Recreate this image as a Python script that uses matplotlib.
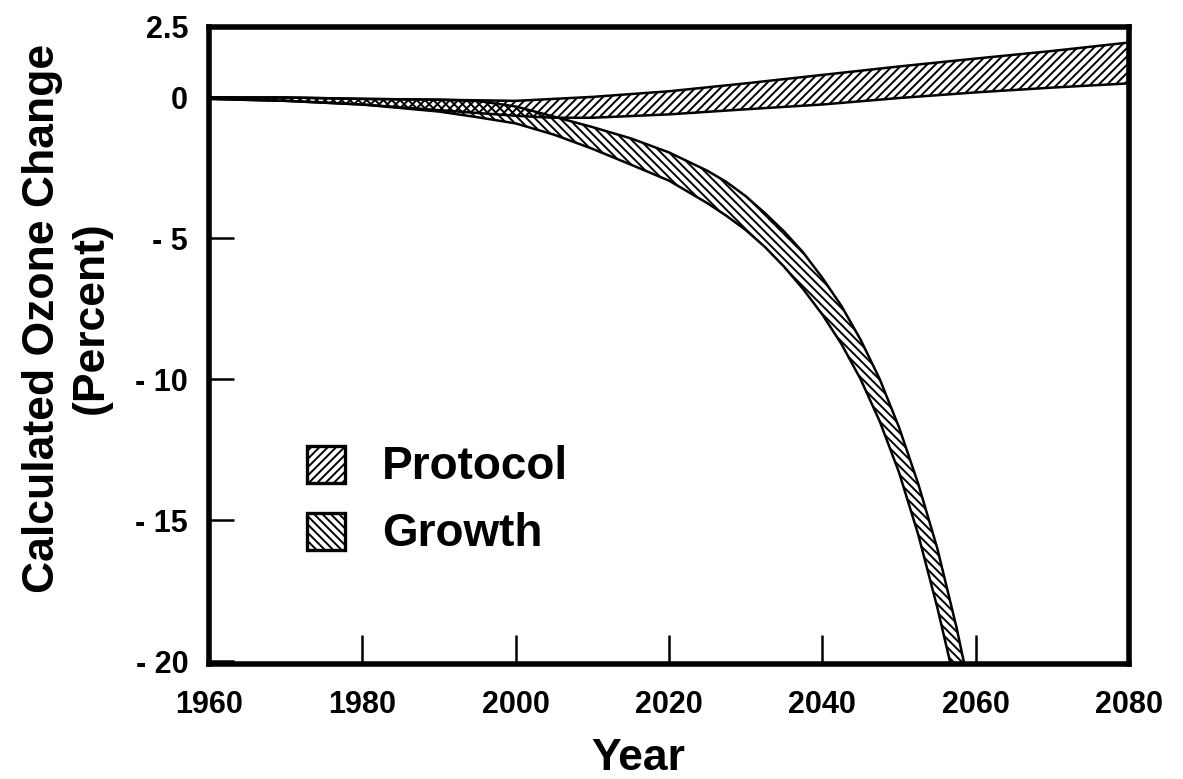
import matplotlib
matplotlib.use("Agg")
import matplotlib.pyplot as plt
from matplotlib.patches import Rectangle

# ---- data ----
protocol_years = [1960, 1970, 1980, 1990, 2000, 2005, 2010, 2020, 2030, 2040, 2050, 2060, 2070, 2080]
protocol_upper = [0.0, 0.0, -0.05, -0.08, -0.12, -0.05, 0.02, 0.22, 0.5, 0.8, 1.1, 1.38, 1.65, 1.95]
protocol_lower = [-0.05, -0.12, -0.25, -0.45, -0.65, -0.72, -0.72, -0.6, -0.42, -0.25, -0.02, 0.18, 0.35, 0.5]

growth_years = [1960, 1970, 1980, 1990, 1995, 2000, 2005, 2010, 2015, 2020, 2025, 2027.5,
                2030, 2032.5, 2035, 2037.5, 2040, 2042.5, 2045, 2047.5, 2050, 2052.5,
                2055, 2057.5, 2060]
growth_upper = [0.0, 0.0, -0.05, -0.08, -0.12, -0.32, -0.68, -1.05, -1.45, -1.95, -2.6, -3.0,
                -3.5, -4.1, -4.75, -5.5, -6.4, -7.4, -8.6, -10.0, -11.7, -13.7,
                -16.0, -18.8, -22.0]
growth_lower = [-0.05, -0.12, -0.25, -0.5, -0.7, -0.92, -1.32, -1.82, -2.38, -2.95, -3.75, -4.2,
                -4.7, -5.3, -6.0, -6.8, -7.7, -8.75, -10.0, -11.5, -13.3, -15.5,
                -18.1, -21.0, -24.0]

x_ticks = [1960, 1980, 2000, 2020, 2040, 2060, 2080]
x_ticklabels = ["1960", "1980", "2000", "2020", "2040", "2060", "2080"]
y_ticks = [2.5, 0, -5, -10, -15, -20]
y_ticklabels = ["2.5", "0", "- 5", "- 10", "- 15", "- 20"]
legend_labels = ["Protocol", "Growth"]
hatches = ["////", "\\\\\\\\"]

FONT = "Liberation Sans"
plt.rcParams["hatch.linewidth"] = 1.4
plt.rcParams["font.family"] = [FONT, "DejaVu Sans"]

W, H = 1183, 779
fig = plt.figure(figsize=(W / 100, H / 100), dpi=100)
ax_l, ax_r, ax_t, ax_b = 209, 1129, 27, 664
ax = fig.add_axes([ax_l / W, 1 - ax_b / H, (ax_r - ax_l) / W, (ax_b - ax_t) / H])

ax.fill_between(protocol_years, protocol_lower, protocol_upper, facecolor="none",
                edgecolor="black", hatch=hatches[0], linewidth=1.8, zorder=2)
ax.fill_between(growth_years, growth_lower, growth_upper, facecolor="none",
                edgecolor="black", hatch=hatches[1], linewidth=1.8, zorder=3)

ax.set_xlim(1960, 2080)
ax.set_ylim(-20.1, 2.5)

for s in ax.spines.values():
    s.set_linewidth(4.0)
    s.set_capstyle("projecting")

ax.set_xticks(x_ticks)
ax.set_xticklabels(x_ticklabels)
ax.set_yticks(y_ticks)
ax.set_yticklabels(y_ticklabels)
ax.tick_params(axis="x", direction="in", length=21, width=1.8, pad=19,
               labelsize=22)
ax.tick_params(axis="y", direction="in", length=18, width=1.8, pad=15,
               labelsize=22)
for lab in ax.get_xticklabels() + ax.get_yticklabels():
    lab.set_fontweight("bold")

# legend drawn as hatched boxes with labels
def to_ax(px, py):
    return (px - ax_l) / (ax_r - ax_l), (ax_b - py) / (ax_b - ax_t)

box_px = [(307, 483), (307, 550)]
text_px = [(382, 479), (382, 546)]
for lab, hat, (bx, by), (tx, ty) in zip(legend_labels, hatches, box_px, text_px):
    x0, y0 = to_ax(bx, by)
    x1, y1 = to_ax(bx + 38, by - 37)
    ax.add_patch(Rectangle((x0, y0), x1 - x0, y1 - y0, transform=ax.transAxes,
                           facecolor="white", edgecolor="black", hatch=hat,
                           linewidth=2.4, zorder=5))
    txx, tyy = to_ax(tx, ty)
    ax.text(txx, tyy, lab, transform=ax.transAxes, fontsize=33, fontweight="bold",
            ha="left", va="baseline", zorder=5)

fig.text(638 / W, 1 - 758 / H, "Year", fontsize=32, fontweight="bold",
         ha="center", va="center")
fig.text(67 / W, 1 - 318 / H, "Calculated Ozone Change\n(Percent)", fontsize=32,
         fontweight="bold", rotation=90, ha="center", va="center",
         multialignment="center", linespacing=1.25)

fig.savefig("out.png", dpi=100, facecolor="white")
